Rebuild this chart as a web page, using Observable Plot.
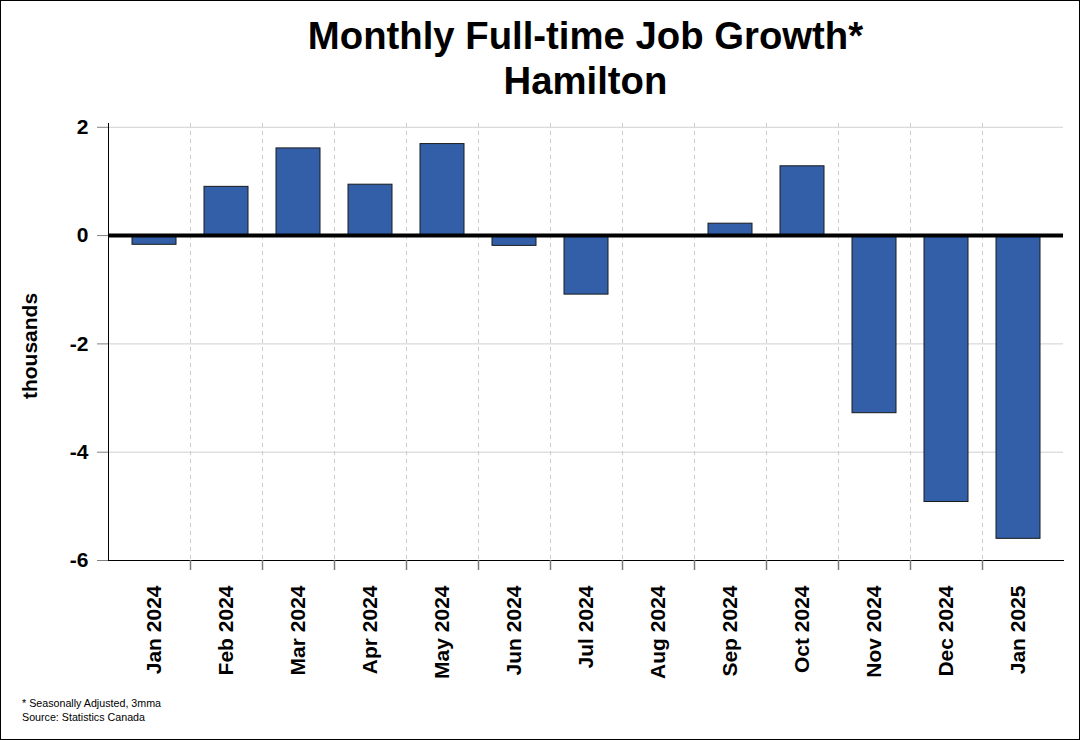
<!DOCTYPE html>
<html><head><meta charset="utf-8">
<script src="https://cdn.jsdelivr.net/npm/d3@7"></script>
<script src="https://cdn.jsdelivr.net/npm/@observablehq/plot@0.6"></script>
<style>
html,body{margin:0;padding:0;background:#fff;}
#wrap{position:relative;width:1080px;height:740px;box-sizing:border-box;border:1px solid #000;font-family:"Liberation Sans",Arial,sans-serif;overflow:hidden;background:#fff}
#title{position:absolute;left:107px;width:955px;top:12px;text-align:center;font-weight:bold;font-size:38.3px;line-height:45px;color:#000}
#chart{position:absolute;left:0;top:110px}
#caption{position:absolute;left:21px;top:695px;font-size:10.7px;line-height:14px;color:#000}
</style></head>
<body><div id="wrap"><div id="title">Monthly Full-time Job Growth*<br>Hamilton</div><div id="chart"></div><div id="caption">* Seasonally Adjusted, 3mma<br>Source: Statistics Canada</div></div>
<script>
const months = ["Jan 2024","Feb 2024","Mar 2024","Apr 2024","May 2024","Jun 2024","Jul 2024","Aug 2024","Sep 2024","Oct 2024","Nov 2024","Dec 2024","Jan 2025"];
const values = [-0.17, 0.90, 1.61, 0.94, 1.69, -0.19, -1.09, 0, 0.22, 1.28, -3.28, -4.92, -5.60];
const yTicks = [2, 0, -2, -4, -6];
const yDomain = [-6, 2.07];
const yLabel = "thousands";

const data = months.map((m, i) => ({month: m, value: values[i]}));
const boundaries = months.slice(1);

const plot = Plot.plot({
  width: 1078, height: 580,
  marginTop: 12, marginBottom: 131, marginLeft: 107, marginRight: 16,
  style: {fontFamily: "Liberation Sans, Arial, sans-serif", background: "white", color: "black", overflow: "visible"},
  x: {type: "band", domain: months, paddingInner: 0.389, paddingOuter: 0.326, align: 0.5},
  y: {domain: yDomain, nice: false},
  marks: [
    Plot.ruleY(yTicks, {stroke: "#d0d0d0"}),
    Plot.ruleX(boundaries, {dx: -36, stroke: "#cccccc", strokeDasharray: "4,4"}),
    Plot.barY(data, {x: "month", y: "value", fill: "#335fa8", stroke: "#1a1a1a", strokeWidth: 1}),
    Plot.ruleY([0], {stroke: "black", strokeWidth: 4}),
    Plot.frame({anchor: "left", stroke: "black"}),
    Plot.frame({anchor: "bottom", stroke: "black"}),
    Plot.axisY({ticks: yTicks, tickFormat: d => String(d), tickSize: 11, tickPadding: 9, fontSize: 21, fontWeight: "bold", stroke: "#808080", fill: "black", label: null}),
    Plot.axisX({tickSize: 0, tickRotate: -90, tickPadding: 25, fontSize: 21, fontWeight: "bold", fill: "black", label: null}),
    Plot.axisX({ticks: boundaries, tickSize: 10, dx: -36, tickFormat: () => "", stroke: "#7a7a7a", strokeWidth: 1.5, label: null}),
    Plot.text([yLabel], {frameAnchor: "left", dx: -72, dy: 4, rotate: -90, fontSize: 21, fontWeight: "bold", lineAnchor: "bottom", textAnchor: "middle", fill: "black"})
  ]
});
document.getElementById("chart").appendChild(plot);
</script>
</body></html>
